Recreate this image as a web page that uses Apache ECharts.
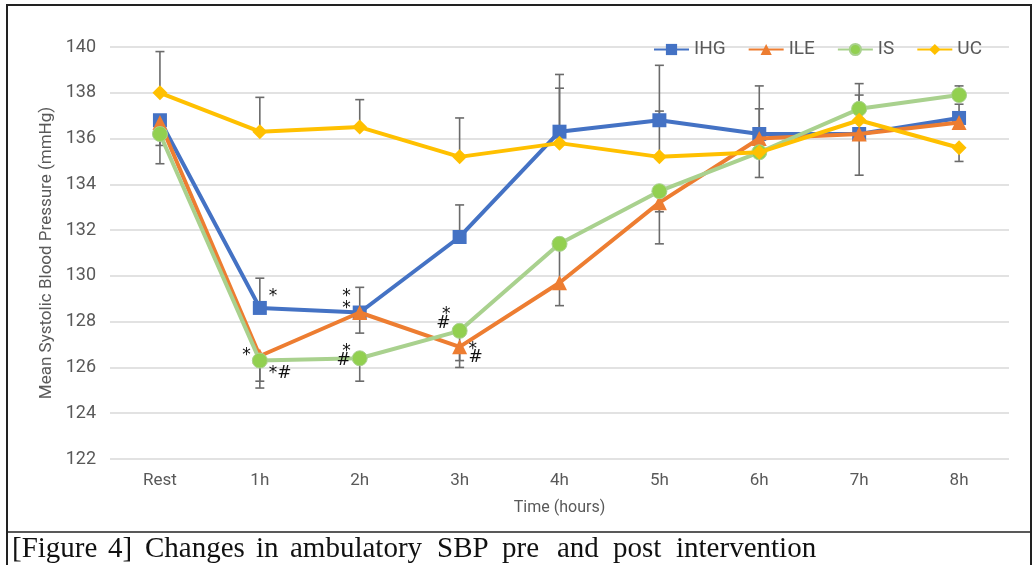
<!DOCTYPE html>
<html>
<head>
<meta charset="utf-8">
<script src="https://cdn.jsdelivr.net/npm/echarts@6/dist/echarts.min.js"></script>
<style>
html,body{margin:0;padding:0;background:#fff;}
#chart{width:1033px;height:565px;}
</style>
</head>
<body>
<div id="chart"></div>
<script>
// ---- data ----
var categories = ['Rest', '1h', '2h', '3h', '4h', '5h', '6h', '7h', '8h'];
var seriesNames = ['IHG', 'ILE', 'IS', 'UC'];
var ihg = [136.8, 128.6, 128.4, 131.7, 136.3, 136.8, 136.2, 136.2, 136.9];
var ile = [136.7, 126.5, 128.4, 126.9, 129.7, 133.2, 136.0, 136.2, 136.7];
var is_ = [136.2, 126.3, 126.4, 127.6, 131.4, 133.7, 135.4, 137.3, 137.9];
var uc  = [138.0, 136.3, 136.5, 135.2, 135.8, 135.2, 135.4, 136.8, 135.6];

// error bar end values (upper / lower), null = not drawn
var ihgErrHigh = [null, 129.9, 129.5, 133.1, 138.8, 139.2, 138.3, null, 137.5];
var ihgErrLow  = [135.7, null, null, null, null, null, null, 134.4, null];
var ileErrHigh = [null, null, null, null, null, null, 137.3, null, null];
var ileErrLow  = [null, 125.4, 127.5, 126.0, null, 131.4, null, null, null];
var isErrHigh  = [null, null, null, null, null, null, null, 138.4, 138.3];
var isErrLow   = [134.9, 125.1, 125.4, 126.3, 128.7, 132.8, null, null, null];
var ucErrHigh  = [139.8, 137.8, 137.7, 136.9, 138.2, 137.2, null, 137.9, null];
var ucErrLow   = [null, null, null, null, null, null, 134.3, null, 135.0];

// significance marks: category index, value level, text, side
var annotations = [
  [1, 129.1, '*', 'right'],
  [1, 126.5, '*', 'left'],
  [1, 125.75, '*#', 'right'],
  [2, 129.1, '*', 'left'],
  [2, 128.55, '*', 'left'],
  [2, 126.7, '*', 'left'],
  [2, 126.3, '#', 'left'],
  [3, 128.3, '*', 'left'],
  [3, 127.9, '#', 'left'],
  [3, 126.8, '*', 'right'],
  [3, 126.45, '#', 'right']
];

var yMin = 122, yMax = 140, yInterval = 2;
var captionText = '[Figure 4] Changes in ambulatory SBP pre and post intervention';

// ---- build ----
var colors = ['#4472C4', '#ED7D31', '#A9D18E', '#FFC000'];
var markerColors = ['#4472C4', '#ED7D31', '#92D050', '#FFC000'];
var symbols = ['rect', 'triangle', 'circle', 'diamond'];
var symbolSizes = [14, 15, 15, 15];
var values = [ihg, ile, is_, uc];
var errHigh = [ihgErrHigh, ileErrHigh, isErrHigh, ucErrHigh];
var errLow = [ihgErrLow, ileErrLow, isErrLow, ucErrLow];

var errData = [];
for (var s = 0; s < values.length; s++) {
  for (var i = 0; i < categories.length; i++) {
    if (errHigh[s][i] != null) errData.push([i, values[s][i], errHigh[s][i]]);
    if (errLow[s][i] != null) errData.push([i, values[s][i], errLow[s][i]]);
  }
}

var series = [{
  type: 'custom',
  name: 'err',
  z: 1,
  silent: true,
  encode: { x: 0, y: [1, 2] },
  data: errData,
  renderItem: function (params, api) {
    var p0 = api.coord([api.value(0), api.value(1)]);
    var p1 = api.coord([api.value(0), api.value(2)]);
    var st = { stroke: '#6b6b6b', lineWidth: 1.6 };
    return {
      type: 'group',
      children: [
        { type: 'line', shape: { x1: p0[0], y1: p0[1], x2: p1[0], y2: p1[1] }, style: st },
        { type: 'line', shape: { x1: p1[0] - 4.5, y1: p1[1], x2: p1[0] + 4.5, y2: p1[1] }, style: st }
      ]
    };
  }
}];

for (var k = 0; k < values.length; k++) {
  series.push({
    type: 'line',
    name: seriesNames[k],
    data: values[k],
    z: 2 + k,
    symbol: symbols[k],
    symbolSize: symbolSizes[k],
    showAllSymbol: true,
    lineStyle: { color: colors[k], width: 4 },
    itemStyle: { color: markerColors[k], borderColor: colors[k], borderWidth: k === 2 ? 1 : 0 },
    emphasis: { disabled: true },
    animation: false
  });
}

var annoTexts = annotations.map(function (a) { return a[2]; });
var annoSides = annotations.map(function (a) { return a[3]; });
series.push({
  type: 'custom',
  name: 'sig',
  z: 10,
  silent: true,
  encode: { x: 0, y: 1 },
  data: annotations.map(function (a) { return [a[0], a[1]]; }),
  renderItem: function (params, api) {
    var p = api.coord([api.value(0), api.value(1)]);
    var txt = annoTexts[params.dataIndex];
    var right = annoSides[params.dataIndex] === 'right';
    return {
      type: 'text',
      x: p[0] + (right ? 9 : -9),
      y: p[1],
      style: {
        text: txt,
        fill: '#111',
        font: '17px "DejaVu Sans", sans-serif',
        align: right ? 'left' : 'right',
        verticalAlign: 'middle'
      }
    };
  }
});

var captionX = [12, 108, 145, 256, 290, 437, 502, 557, 613, 676];
var words = captionText.split(' ');
var graphics = [
  { type: 'rect', shape: { x: 7, y: 5, width: 1024, height: 600 }, style: { fill: 'none', stroke: '#222', lineWidth: 2 }, z: 100 },
  { type: 'line', shape: { x1: 7, y1: 532, x2: 1031, y2: 532 }, style: { stroke: '#222', lineWidth: 1.5 }, z: 100 }
];
words.forEach(function (w, i) {
  graphics.push({
    type: 'text', x: captionX[i], y: 549, z: 100,
    style: { text: w, font: '29px "Liberation Serif", "DejaVu Serif", serif', fill: '#111', verticalAlign: 'middle', align: 'left' }
  });
});

var chart = echarts.init(document.getElementById('chart'), null, { renderer: 'canvas' });
chart.setOption({
  animation: false,
  backgroundColor: '#fff',
  grid: { left: 110, right: 24, top: 47, bottom: 106 },
  legend: {
    data: seriesNames,
    right: 46,
    top: 35,
    itemWidth: 35,
    itemHeight: 14,
    itemGap: 22,
    textStyle: { color: '#595959', fontSize: 19, fontFamily: 'Roboto, "Liberation Sans", sans-serif' }
  },
  xAxis: {
    type: 'category',
    data: categories,
    boundaryGap: true,
    axisLine: { show: false },
    axisTick: { show: false },
    axisLabel: { color: '#595959', fontSize: 17, margin: 13, fontFamily: 'Roboto, "Liberation Sans", sans-serif' },
    name: 'Time (hours)',
    nameLocation: 'middle',
    nameGap: 41,
    nameTextStyle: { color: '#595959', fontSize: 16, fontFamily: 'Roboto, "Liberation Sans", sans-serif' }
  },
  yAxis: {
    type: 'value',
    min: yMin,
    max: yMax,
    interval: yInterval,
    axisLine: { show: false },
    axisTick: { show: false },
    axisLabel: { color: '#595959', fontSize: 18, margin: 14, fontFamily: 'Roboto, "Liberation Sans", sans-serif' },
    splitLine: { lineStyle: { color: '#d9d9d9', width: 1.5 } },
    name: 'Mean Systolic Blood Pressure (mmHg)',
    nameLocation: 'middle',
    nameGap: 55,
    nameTextStyle: { color: '#595959', fontSize: 17, fontFamily: 'Roboto, "Liberation Sans", sans-serif' }
  },
  series: series,
  graphic: graphics
});
</script>
</body>
</html>
